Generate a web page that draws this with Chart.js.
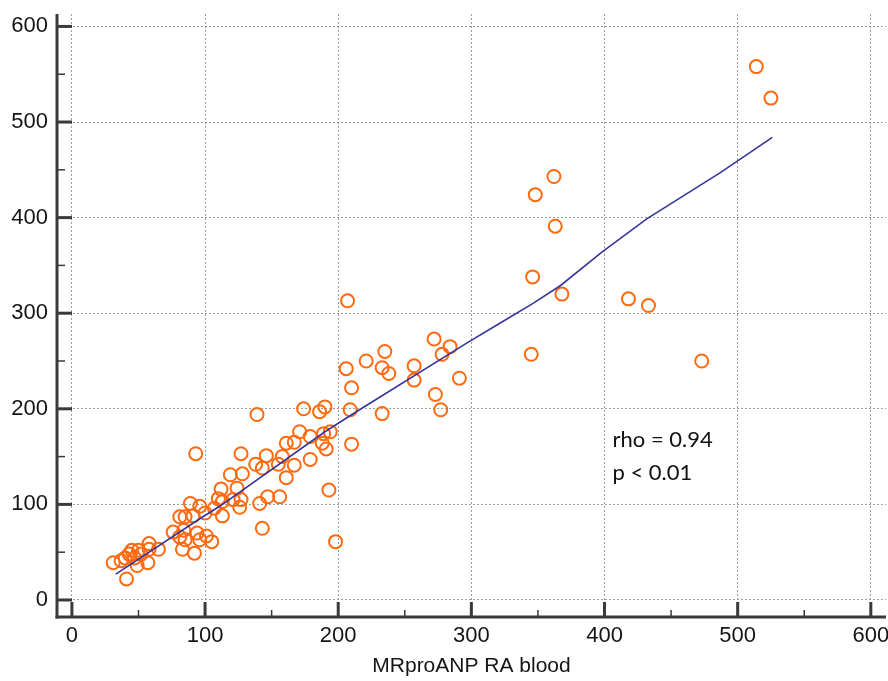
<!DOCTYPE html>
<html>
<head>
<meta charset="utf-8">
<title>MRproANP RA blood</title>
<script src="https://cdn.jsdelivr.net/npm/chart.js@4.4.1/dist/chart.umd.min.js"></script>
<style>
    html, body { margin: 0; padding: 0; background: #fff; }
    #wrap { width: 888px; height: 681px; }
</style>
</head>
<body>
<div id="wrap"><canvas id="chart" width="888" height="681"></canvas></div>
<script>
const xValues = [
    31, 37, 40, 41, 43, 45, 47, 49, 50, 52, 57, 58, 58, 65, 76, 81, 81, 83, 84, 85,
    85, 89, 91, 92, 93, 94, 96, 96, 100, 101, 105, 107, 110, 112, 113, 113, 119, 121, 124, 126,
    127, 127, 128, 138, 139, 141, 143, 143, 146, 147,
    155, 156, 158, 161, 161, 167, 167, 171, 174, 179, 179, 186, 188, 189, 190, 191, 193, 194, 198, 206,
    207, 209, 210, 210, 221, 233, 233, 235, 238, 257, 257, 272, 273, 277, 278, 284, 291,
    345, 346, 348, 362, 363, 368, 418, 433, 473, 514, 525
];
const yValues = [
    39, 41, 44, 22, 48, 52, 44, 36, 52, 48, 39, 59, 53, 53, 71, 87, 66, 53, 73, 63,
    87, 101, 88, 49, 153, 70, 98, 63, 91, 67, 61, 96, 106, 116, 103, 88, 131, 105, 117, 97,
    105, 153, 132, 142, 194, 101, 138, 75, 151, 108,
    142, 108, 150, 128, 164, 165, 141, 176, 200, 171, 147, 197, 164, 174, 202, 158, 115, 176, 61, 242,
    313, 199, 222, 163, 250, 243, 195, 260, 237, 245, 230, 273, 215, 199, 257, 265, 232,
    257, 338, 424, 443, 391, 320, 315, 308, 250, 558, 525
];

// Fitted curve
const fitX = [33, 96, 111, 190, 216, 298, 322, 346, 367, 398, 432, 487, 526];
const fitY = [27, 85, 98, 176, 199, 270, 290, 310, 329, 364, 399, 447, 484];

// Axes
const xTicks = [0, 100, 200, 300, 400, 500, 600];
const yTicks = [0, 100, 200, 300, 400, 500, 600];
const xMinor = [50, 150, 250, 350, 450, 550];
const yMinor = [50, 150, 250, 350, 450, 550];
const xTitle = 'MRproANP RA blood';
const statLines = ['rho = 0.94', 'p < 0.01'];

const ORANGE = '#ff6a10';
const NAVY = '#35359c';
const AXIS = '#3a3a3a';
const FONT = "Arial, 'Liberation Sans', Helvetica, sans-serif";

const points = xValues.map((x, i) => ({ x: x, y: yValues[i] }));
const fit = fitX.map((x, i) => ({ x: x, y: fitY[i] }));

/**
 * Axis lines with inward ticks, as in the original figure
 */
const axisFrame = {
    id: 'axisFrame',
    afterDraw(chart) {
        const { ctx, chartArea: a, scales: { x, y } } = chart;
        ctx.save();
        ctx.strokeStyle = AXIS;
        ctx.lineCap = 'butt';

        const seg = (x1, y1, x2, y2) => {
            ctx.beginPath();
            ctx.moveTo(x1, y1);
            ctx.lineTo(x2, y2);
            ctx.stroke();
        };

        // minor ticks
        ctx.lineWidth = 1.5;
        xMinor.forEach(v => {
            const px = x.getPixelForValue(v);
            seg(px, a.bottom, px, a.bottom - 7);
        });
        yMinor.forEach(v => {
            const py = y.getPixelForValue(v);
            seg(a.left, py, a.left + 8, py);
        });

        // major ticks
        ctx.lineWidth = 3;
        xTicks.forEach(v => {
            const px = x.getPixelForValue(v);
            seg(px, a.bottom, px, a.bottom - 15);
        });
        yTicks.forEach(v => {
            const py = y.getPixelForValue(v);
            seg(a.left, py, a.left + 15, py);
        });

        // axis lines
        seg(a.left, a.top, a.left, a.bottom + 1.5);
        seg(a.left - 1.5, a.bottom, a.right, a.bottom);
        ctx.restore();
    }
};

const statText = {
    id: 'statText',
    afterDraw(chart) {
        const { ctx, scales: { x, y } } = chart;
        ctx.save();
        ctx.fillStyle = '#111';
        ctx.font = "22px Lato, 'Open Sans', sans-serif";
        ctx.textAlign = 'left';
        ctx.textBaseline = 'middle';
        const left = x.getPixelForValue(406);
        ctx.fillText(statLines[0], left, y.getPixelForValue(167));
        ctx.fillText(statLines[1], left, y.getPixelForValue(133));
        ctx.restore();
    }
};

new Chart(document.getElementById('chart'), {
    type: 'scatter',
    data: {
        datasets: [
            {
                label: 'fit',
                type: 'line',
                data: fit,
                borderColor: NAVY,
                borderWidth: 1.6,
                pointRadius: 0,
                tension: 0,
                fill: false,
                order: 0
            },
            {
                label: 'samples',
                data: points,
                pointStyle: 'circle',
                pointRadius: 6.5,
                pointBorderWidth: 2,
                borderColor: ORANGE,
                backgroundColor: 'rgba(255,255,255,0)',
                order: 1
            }
        ]
    },
    plugins: [axisFrame, statText],
    options: {
        responsive: false,
        devicePixelRatio: 1,
        animation: false,
        layout: { autoPadding: false, padding: { top: 14, right: 2, left: 0, bottom: 0 } },
        plugins: {
            legend: { display: false },
            tooltip: { enabled: false }
        },
        scales: {
            x: {
                type: 'linear',
                min: -11.2,
                max: 611.4,
                afterBuildTicks: s => { s.ticks = xTicks.map(v => ({ value: v })); },
                afterFit: s => {
                    s.height = 64;
                    s.paddingLeft = 0;
                    s.paddingRight = 0;
                },
                grid: { color: '#9c9c9c', lineWidth: 1, drawTicks: false },
                border: { display: false, dash: [2, 2] },
                ticks: {
                    padding: 6,
                    color: '#151515',
                    font: { family: FONT, size: 22 }
                },
                title: {
                    display: true,
                    text: xTitle,
                    color: '#151515',
                    padding: { top: 0, bottom: 2 },
                    font: { family: FONT, size: 21 }
                }
            },
            y: {
                type: 'linear',
                min: -17.8,
                max: 613,
                afterBuildTicks: s => { s.ticks = yTicks.map(v => ({ value: v })); },
                afterFit: s => {
                    s.width = 57;
                    s.paddingTop = 0;
                    s.paddingBottom = 0;
                },
                grid: { color: '#9c9c9c', lineWidth: 1, drawTicks: false },
                border: { display: false, dash: [2, 2] },
                ticks: {
                    padding: 9,
                    color: '#151515',
                    font: { family: FONT, size: 22 }
                }
            }
        }
    }
});
</script>
</body>
</html>
